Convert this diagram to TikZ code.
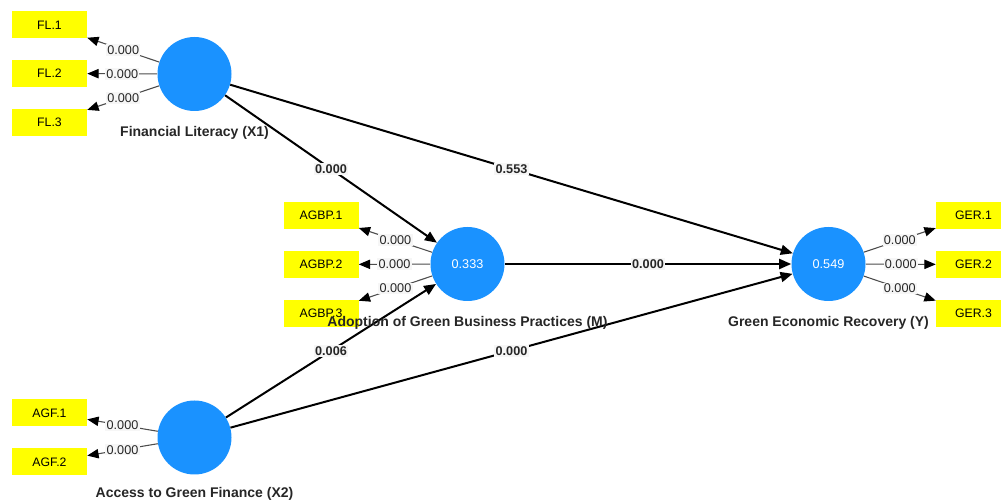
\documentclass[tikz,border=0pt]{standalone}
\usepackage{fontspec}
\setmainfont{Liberation Sans}
\usetikzlibrary{arrows.meta,positioning}

\definecolor{lvblue}{RGB}{26,146,255}
\definecolor{indyellow}{RGB}{255,255,0}
\definecolor{valbg}{RGB}{246,246,246}

\tikzset{
	lv/.style={circle, fill=lvblue, minimum size=55.5pt, inner sep=0pt, text=white, font=\fontsize{9.5}{11}\selectfont},
	ind/.style={rectangle, fill=indyellow, minimum width=56.25pt, minimum height=20.25pt, inner sep=0pt, font=\fontsize{9.2}{11}\selectfont},
	lvname/.style={inner sep=0pt, text=black!85, font=\fontsize{10.5}{12}\selectfont\bfseries},
	loadarrow/.style={draw=black!70, line width=0.8pt, -{Triangle[length=8.5pt,width=7pt,color=black]}},
	patharrow/.style={draw=black, line width=1.5pt, -{Triangle[length=9pt,width=7.5pt]}},
	lval/.style={fill=valbg, inner sep=1pt, font=\fontsize{9.5}{11}\selectfont, text=black!85},
	pval/.style={fill=valbg, inner sep=1pt, font=\fontsize{9.5}{11}\selectfont\bfseries, text=black!85},
}

\begin{document}
\begin{tikzpicture}[x=0.75pt, y=-0.75pt, line join=round]
	\useasboundingbox (0,0) rectangle (1001,502);
	
	% constructs
	\path
		(194.5,74) node[lv] (X1) {}
		(194.5,437.5) node[lv] (X2) {}
		(467.5,264) node[lv] (M) {0.333}
		(828.5,264) node[lv] (Y) {0.549}
	;
	
	% indicators
	\foreach \n/\y in {1/25, 2/73.5, 3/122.5}{
		\node[ind] (FL\n) at (49.5,\y) {FL.\n};
		\draw[loadarrow] (X1) -- node[lval] {0.000} (FL\n);
	};
	\foreach \n/\y in {1/413, 2/462}{
		\node[ind] (AGF\n) at (49.5,\y) {AGF.\n};
		\draw[loadarrow] (X2) -- node[lval] {0.000} (AGF\n);
	};
	\foreach \n/\y in {1/215.5, 2/264.5, 3/313.5}{
		\node[ind] (AGBP\n) at (321,\y) {AGBP.\n};
		\draw[loadarrow] (M) -- node[lval] {0.000} (AGBP\n);
		\node[ind] (GER\n) at (973.5,\y) {GER.\n};
		\draw[loadarrow] (Y) -- node[lval] {0.000} (GER\n);
	};
	
	% structural paths
	\draw[patharrow] (X1) -- node[pval] {0.000} (M);
	\draw[patharrow] (X1) -- node[pval] {0.553} (Y);
	\draw[patharrow] (M) -- node[pval] {0.000} (Y);
	\draw[patharrow] (X2) -- node[pval] {0.006} (M);
	\draw[patharrow] (X2) -- node[pval] {0.000} (Y);
	
	% construct names
	\node[lvname, below=11pt of X1] (X1name) {Financial Literacy (X1)};
	\node[lvname, below=9pt of X2] (X2name) {Access to Green Finance (X2)};
	\node[lvname, below=11pt of M] (Mname) {Adoption of Green Business Practices (M)};
	\node[lvname, below=11pt of Y] (Yname) {Green Economic Recovery (Y)};
	
\end{tikzpicture}
\end{document}
